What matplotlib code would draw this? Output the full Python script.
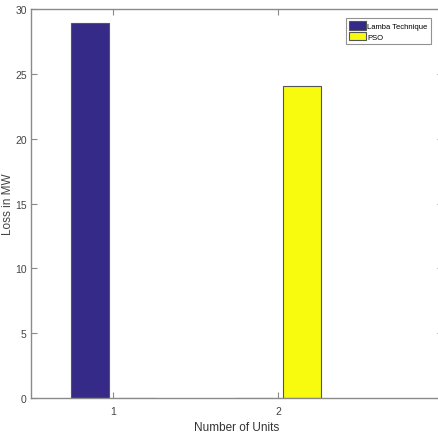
import numpy as np
import matplotlib
matplotlib.use('Agg')
import matplotlib.pyplot as plt

plt.rcParams['font.family'] = ['Liberation Sans Narrow', 'Liberation Sans', 'DejaVu Sans']

# data
units = [1, 2]
lamba = [28.95, 0]
pso = [0, 24.1]
series_names = ['Lamba Technique', 'PSO']

fig = plt.figure(figsize=(4.39, 4.39), dpi=100)
ax = fig.add_axes([0.0706, 0.0911, 0.9385, 0.886])

x = np.array(units)
w = 0.229
off = 0.143
ax.bar(x - off, lamba, w, color='#352a87', edgecolor='#555555', linewidth=0.8, label=series_names[0])
ax.bar(x + off, pso, w, color='#f9fb0e', edgecolor='#555555', linewidth=0.8, label=series_names[1])

ax.set_xlim(0.5, 3.0)
ax.set_ylim(0, 30)
ax.set_xticks(units)
ax.set_yticks(range(0, 31, 5))

for s in ax.spines.values():
    s.set_color('#8a8a8a')
    s.set_linewidth(1.0)
ax.tick_params(direction='in', length=4, width=0.8, colors='#8a8a8a',
               labelcolor='#444444', labelsize=7.5, top=True, right=True)
ax.tick_params(axis='x', pad=6)
ax.tick_params(axis='y', pad=3)

ax.set_xlabel('Number of Units', fontsize=8.5, color='#333333', labelpad=3)
ax.set_ylabel('Loss in MW', fontsize=8.5, color='#444444')
ax.yaxis.set_label_coords(-0.042, 0.5)

leg = ax.legend(loc='upper right', bbox_to_anchor=(0.97, 0.976), fontsize=5.5,
                frameon=True, fancybox=False, borderpad=0.4, borderaxespad=0,
                handlelength=2.2, handleheight=1.3, handletextpad=0.15,
                labelspacing=0.25)
leg.get_frame().set_edgecolor('#777777')
leg.get_frame().set_linewidth(0.8)

fig.savefig('out.png', dpi=100)
